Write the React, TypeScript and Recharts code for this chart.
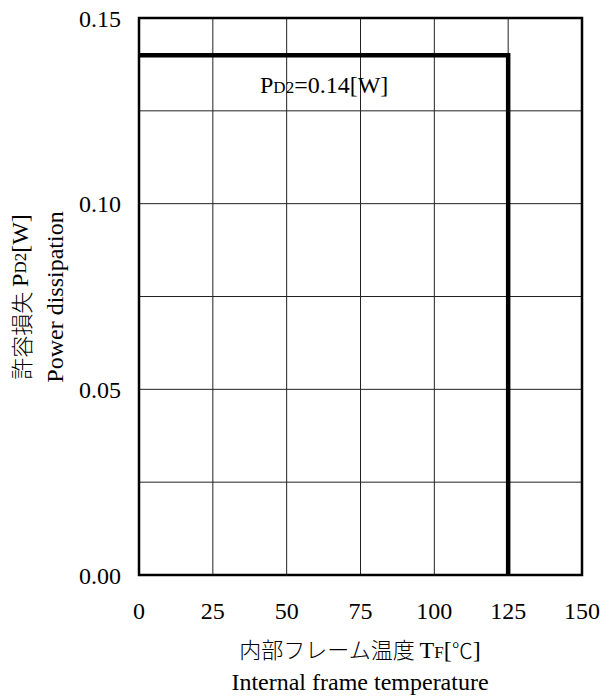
import { LineChart, Line, XAxis, YAxis, CartesianGrid, ReferenceArea, Customized } from 'recharts';

// derating curve: flat at 0.14 W up to 125 °C, then cut off
const tempF = [0, 125, 125];
const powerD2 = [0.14, 0.14, 0];

const xTicks = [0, 25, 50, 75, 100, 125, 150];
const yTicks = [0, 0.025, 0.05, 0.075, 0.1, 0.125, 0.15];
const yLabelled = [0, 0.05, 0.1, 0.15];

const xTitleJa = '内部フレーム温度 ';
const xTitleEn = 'Internal frame temperature';
const yTitleJa = '許容損失 ';
const yTitleEn = 'Power dissipation';

const data = tempF.map((t, i) => ({ t, p: powerD2[i] }));

const FONT = '"Liberation Serif", "Times New Roman", "Noto Sans CJK JP", serif';
const CJK = '"Noto Sans CJK JP", sans-serif';

const fmtY = (v: number) =>
  yLabelled.some((l) => Math.abs(l - v) < 1e-9) ? v.toFixed(2) : '';

const Texts = () => (
  <g fontFamily={FONT} fill="#000">
    <text x={260} y={93} fontSize={24}>
      P<tspan fontSize={17}>D2</tspan>=0.14[W]
    </text>
    <text x={360} y={658} fontSize={24} textAnchor="middle">
      <tspan fontFamily={CJK} fontSize={22} fontWeight={300}>{xTitleJa}</tspan>
      T<tspan fontSize={17}>F</tspan>[
      <tspan fontFamily={CJK} fontSize={21} fontWeight={300}>℃</tspan>]
    </text>
    <text x={360} y={690} fontSize={24} textAnchor="middle">
      {xTitleEn}
    </text>
    <text
      x={20}
      y={297}
      fontSize={24}
      textAnchor="middle"
      dominantBaseline="central"
      transform="rotate(-90, 20, 297)"
    >
      <tspan fontFamily={CJK} fontSize={22} fontWeight={300}>{yTitleJa}</tspan>
      P<tspan fontSize={17}>D2</tspan>[W]
    </text>
    <text
      x={55}
      y={297}
      fontSize={24}
      textAnchor="middle"
      dominantBaseline="central"
      transform="rotate(-90, 55, 297)"
    >
      {yTitleEn}
    </text>
  </g>
);

const App = () => {
  return (
    <div style={{ position: 'absolute', left: 0, top: 0, background: '#fff' }}>
      <LineChart width={610} height={697} data={data} margin={{ top: 18, right: 28, left: 0, bottom: 0 }}>
        <CartesianGrid stroke="#222" strokeWidth={1} />
        <XAxis
          dataKey="t"
          type="number"
          domain={[0, 150]}
          ticks={xTicks}
          height={122}
          axisLine={false}
          tickLine={false}
          tickSize={0}
          tickMargin={27}
          tick={{ fill: '#000', fontSize: 24, fontFamily: FONT }}
        />
        <YAxis
          type="number"
          domain={[0, 0.15]}
          ticks={yTicks}
          width={139}
          axisLine={false}
          tickLine={false}
          tickSize={0}
          tickMargin={18}
          tickFormatter={fmtY}
          tick={{ fill: '#000', fontSize: 24, fontFamily: FONT }}
        />
        <ReferenceArea x1={0} x2={150} y1={0} y2={0.15} fill="none" stroke="#000" strokeWidth={2.5} />
        <Line
          type="linear"
          dataKey="p"
          stroke="#000"
          strokeWidth={4.5}
          strokeLinejoin="miter"
          dot={false}
          isAnimationActive={false}
        />
        <Customized component={Texts} />
      </LineChart>
    </div>
  );
};

export default App;
